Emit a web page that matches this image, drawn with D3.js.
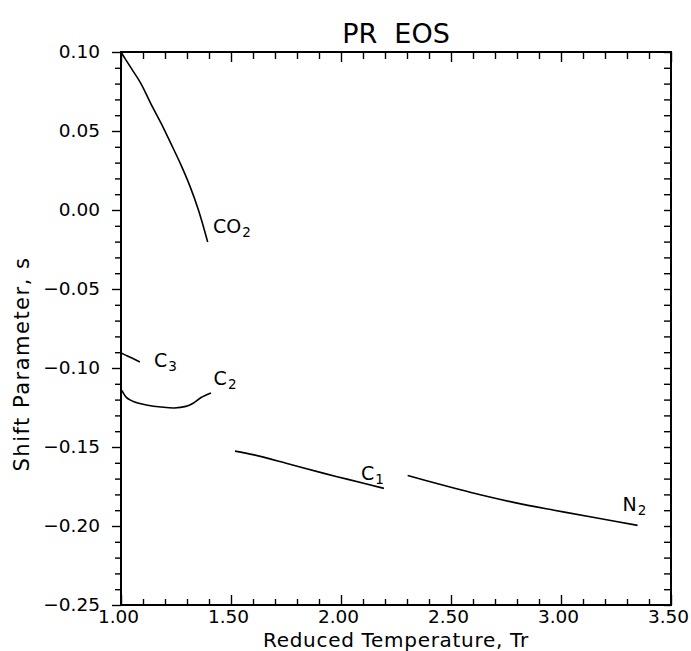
<!DOCTYPE html>
<html>
<head>
<meta charset="utf-8">
<script src="https://cdn.jsdelivr.net/npm/d3@7"></script>
<style>
  html, body { margin: 0; padding: 0; background: #fff; }
  svg { display: block; }
  text { font-family: "DejaVu Sans", sans-serif; fill: #000; }
</style>
</head>
<body>
<svg id="chart" width="691" height="651"></svg>
<script>
// Volume-shift parameter vs reduced temperature (Peng-Robinson EOS)
const co2Tr = [1.000, 1.020, 1.050, 1.090, 1.136, 1.182, 1.227, 1.273, 1.315, 1.352, 1.394];
const co2S  = [0.1000, 0.0955, 0.0890, 0.0802, 0.0672, 0.0550, 0.0420, 0.0284, 0.0145, 0.0000, -0.0202];

const c3Tr = [1.000, 1.023, 1.045, 1.086];
const c3S  = [-0.0905, -0.0920, -0.0934, -0.0962];

const c2Tr = [1.000, 1.008, 1.023, 1.045, 1.076, 1.121, 1.182, 1.242, 1.295, 1.326, 1.364, 1.409];
const c2S  = [-0.1135, -0.1152, -0.1184, -0.1205, -0.1222, -0.1236, -0.1247, -0.1253, -0.1243, -0.1225, -0.1187, -0.1158];

const c1Tr = [1.518, 1.605, 1.759, 1.923, 2.032, 2.195];
const c1S  = [-0.1526, -0.1550, -0.1606, -0.1667, -0.1705, -0.1762];

const n2Tr = [2.303, 2.440, 2.591, 2.790, 2.969, 3.151, 3.348];
const n2S  = [-0.1680, -0.1733, -0.1788, -0.1852, -0.1900, -0.1946, -0.1996];

// Curve labels: name, subscript, anchor (Tr, s)
const labelText = ["CO", "C", "C", "C", "N"];
const labelSub  = ["2", "3", "2", "1", "2"];
const labelTr   = [1.418, 1.150, 1.421, 2.091, 3.280];
const labelS    = [-0.0147, -0.0994, -0.1109, -0.1711, -0.1906];

const xTickValues = [1.0, 1.5, 2.0, 2.5, 3.0, 3.5];
const xTickLabels = ["1.00", "1.50", "2.00", "2.50", "3.00", "3.50"];
const yTickValues = [0.10, 0.05, 0.00, -0.05, -0.10, -0.15, -0.20, -0.25];
const yTickLabels = ["0.10", "0.05", "0.00", "\u22120.05", "\u22120.10", "\u22120.15", "\u22120.20", "\u22120.25"];

const titleText = "PR  EOS";
const xTitle = "Reduced Temperature, Tr";
const yTitle = "Shift Parameter, s";

const svg = d3.select("#chart");
const plotLeft = 121, plotRight = 671, plotTop = 52, plotBottom = 605;

const x = d3.scaleLinear().domain([1.0, 3.5]).range([plotLeft, plotRight]);
const y = d3.scaleLinear().domain([-0.25, 0.10]).range([plotBottom, plotTop]);

const xMinor = d3.range(10, 36).map(v => v / 10).filter(v => !xTickValues.some(m => Math.abs(m - v) < 1e-9));
const yMinor = d3.range(-25, 11).map(v => v / 100).filter(v => !yTickValues.some(m => Math.abs(m - v) < 1e-9));

function styleAxis(g) {
  g.select(".domain").remove();
  g.selectAll(".tick line").attr("stroke", "#000").attr("stroke-width", 1.4);
  g.selectAll(".tick text").attr("font-size", 18.5).attr("fill", "#000");
}

// bottom axis: ticks point inward, labels below
svg.append("g").attr("transform", `translate(0,${plotBottom})`)
  .call(d3.axisBottom(x).tickValues(xTickValues).tickSize(-10).tickPadding(5)
        .tickFormat((d, i) => xTickLabels[i]))
  .call(styleAxis)
  .call(g => g.selectAll(".tick text").attr("dx", -3));
svg.append("g").attr("transform", `translate(0,${plotBottom})`)
  .call(d3.axisBottom(x).tickValues(xMinor).tickSize(-6).tickFormat(""))
  .call(styleAxis);

// top axis: inward ticks, no labels
svg.append("g").attr("transform", `translate(0,${plotTop})`)
  .call(d3.axisTop(x).tickValues(xTickValues).tickSize(-10).tickFormat(""))
  .call(styleAxis);
svg.append("g").attr("transform", `translate(0,${plotTop})`)
  .call(d3.axisTop(x).tickValues(xMinor).tickSize(-7).tickFormat(""))
  .call(styleAxis);

// left axis: outward ticks with labels
svg.append("g").attr("transform", `translate(${plotLeft},0)`)
  .call(d3.axisLeft(y).tickValues(yTickValues).tickSize(9).tickPadding(12)
        .tickFormat((d, i) => yTickLabels[i]))
  .call(styleAxis);
svg.append("g").attr("transform", `translate(${plotLeft},0)`)
  .call(d3.axisLeft(y).tickValues(yMinor).tickSize(6).tickFormat(""))
  .call(styleAxis);

// right axis: inward ticks
svg.append("g").attr("transform", `translate(${plotRight},0)`)
  .call(d3.axisRight(y).tickValues(yTickValues.concat(yMinor)).tickSize(-7).tickFormat(""))
  .call(styleAxis);

// frame
svg.append("rect")
  .attr("x", plotLeft).attr("y", plotTop)
  .attr("width", plotRight - plotLeft).attr("height", plotBottom - plotTop)
  .attr("fill", "none").attr("stroke", "#000").attr("stroke-width", 2);

// curves
const series = [
  [co2Tr, co2S], [c3Tr, c3S], [c2Tr, c2S], [c1Tr, c1S], [n2Tr, n2S]
];
const line = d3.line().x(d => x(d[0])).y(d => y(d[1])).curve(d3.curveCatmullRom.alpha(0.5));
svg.append("g").selectAll("path")
  .data(series.map(([t, s]) => t.map((v, i) => [v, s[i]])))
  .join("path")
  .attr("d", line)
  .attr("fill", "none")
  .attr("stroke", "#000")
  .attr("stroke-width", 1.6)
  .attr("stroke-linejoin", "round");

// curve labels with subscripts
const lab = svg.append("g").selectAll("text")
  .data(labelText.map((t, i) => ({ t, sub: labelSub[i], tr: labelTr[i], s: labelS[i] })))
  .join("text")
  .attr("x", d => x(d.tr))
  .attr("y", d => y(d.s))
  .attr("font-size", 19);
lab.append("tspan").text(d => d.t);
lab.append("tspan").attr("font-size", 13.5).attr("dy", 4).attr("dx", 1).text(d => d.sub);

// titles
svg.append("text")
  .attr("x", (plotLeft + plotRight) / 2).attr("y", 43)
  .attr("text-anchor", "middle")
  .attr("font-size", 27)
  .style("white-space", "pre")
  .text(titleText);

svg.append("text")
  .attr("x", (plotLeft + plotRight) / 2).attr("y", 646.5)
  .attr("text-anchor", "middle")
  .attr("font-size", 20)
  .attr("letter-spacing", 0.7)
  .text(xTitle);

svg.append("text")
  .attr("transform", `translate(29,364) rotate(-90)`)
  .attr("text-anchor", "middle")
  .attr("font-size", 21)
  .attr("letter-spacing", 1.5)
  .text(yTitle);
</script>
</body>
</html>
